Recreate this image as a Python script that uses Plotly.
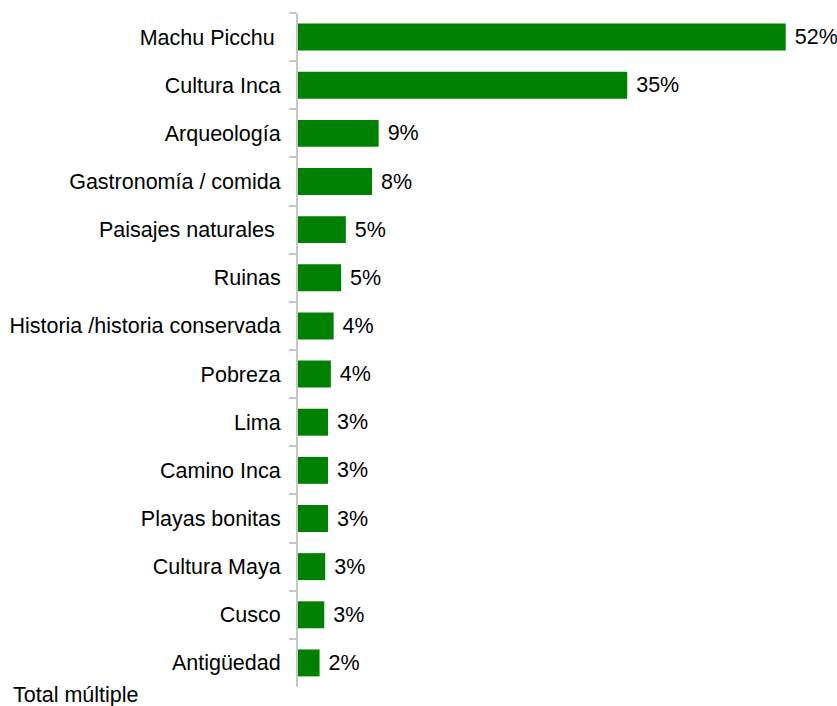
import plotly.graph_objects as go

# Categories (top to bottom) and their shares in percent
categories = [
    "Machu Picchu\u00a0",
    "Cultura Inca",
    "Arqueología",
    "Gastronomía / comida",
    "Paisajes naturales\u00a0",
    "Ruinas",
    "Historia /historia conservada",
    "Pobreza",
    "Lima",
    "Camino Inca",
    "Playas bonitas",
    "Cultura Maya",
    "Cusco",
    "Antigüedad",
]
shares = [52.0, 35.1, 8.6, 7.9, 5.1, 4.6, 3.8, 3.5, 3.2, 3.2, 3.2, 2.9, 2.8, 2.3]

FONT = "Liberation Sans, Arial, sans-serif"
FONT_SIZE = 21.5
GREEN = "#008000"
AXIS_GREY = "#c6c6c6"

fig = go.Figure(
    go.Bar(
        x=shares,
        y=categories,
        orientation="h",
        marker=dict(color=GREEN, line=dict(width=0)),
        texttemplate="\u00a0%{x:.0f}%",
        textposition="outside",
        constraintext="none",
        cliponaxis=False,
        textfont=dict(family=FONT, size=FONT_SIZE, color="#000000"),
        hoverinfo="skip",
    )
)

fig.update_layout(
    width=837,
    height=706,
    margin=dict(l=298, r=10, t=13, b=19),
    paper_bgcolor="white",
    plot_bgcolor="white",
    bargap=0.44,
    showlegend=False,
    font=dict(family=FONT, size=FONT_SIZE, color="#000000"),
    xaxis=dict(
        range=[0, 56.4],
        visible=False,
        fixedrange=True,
    ),
    yaxis=dict(
        categoryorder="array",
        categoryarray=categories,
        autorange="reversed",
        showline=True,
        linecolor=AXIS_GREY,
        linewidth=2,
        ticks="outside",
        tickson="boundaries",
        ticklen=7,
        tickwidth=2,
        tickcolor=AXIS_GREY,
        showgrid=False,
        zeroline=False,
        tickfont=dict(family=FONT, size=FONT_SIZE, color="#000000"),
        ticklabelstandoff=11,
    ),
    annotations=[
        dict(
            text="Total múltiple",
            xref="paper",
            yref="paper",
            x=-298 / 529,
            y=-8 / 674,
            xanchor="left",
            yanchor="middle",
            xshift=11,
            showarrow=False,
            font=dict(family=FONT, size=FONT_SIZE, color="#000000"),
        )
    ],
)

fig.write_html("out.html")
